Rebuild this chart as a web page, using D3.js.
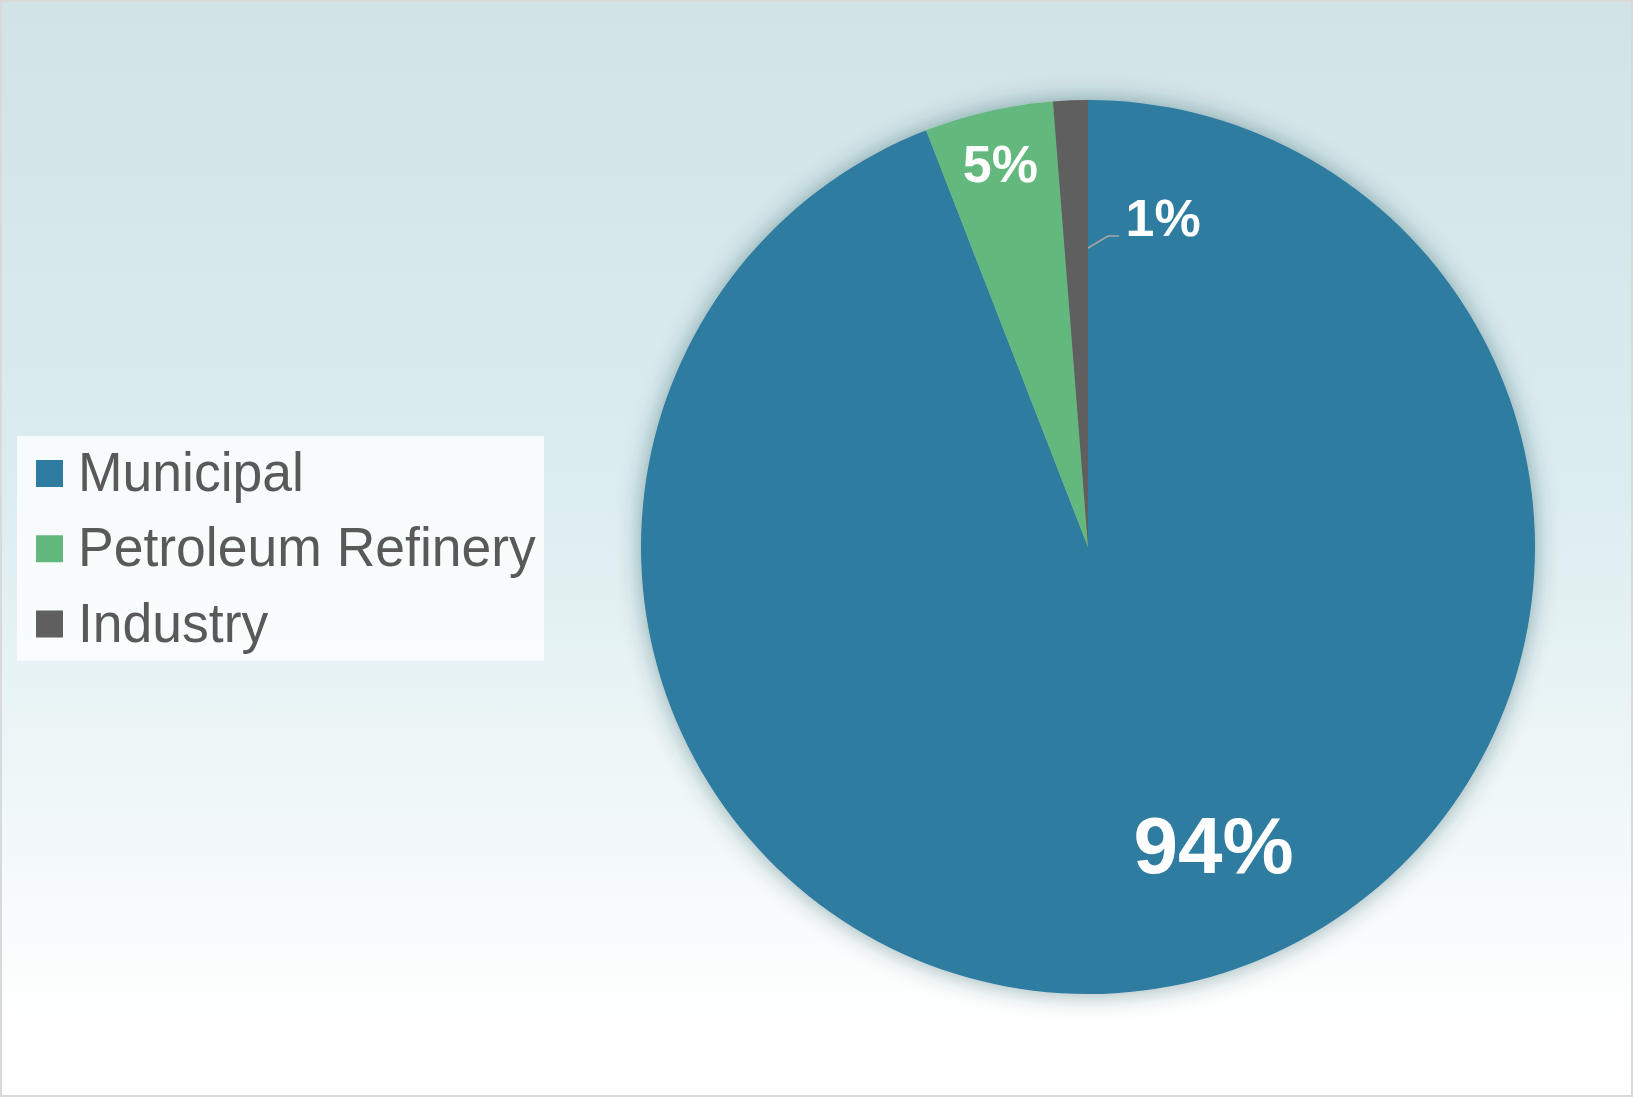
<!DOCTYPE html>
<html>
<head>
<meta charset="utf-8">
<script src="https://cdn.jsdelivr.net/npm/d3@7"></script>
<style>
  html, body { margin: 0; padding: 0; overflow: hidden; }
  svg { display: block; font-family: "Liberation Sans", Arial, sans-serif; }
</style>
</head>
<body>
<div id="chart"></div>
<script>
// chart data
const categories = ['Municipal', 'Petroleum Refinery', 'Industry'];
const values = [94.1, 4.65, 1.25];
const labels = ['94%', '5%', '1%'];
const colors = ['#2d7ba0', '#63b87e', '#5f5f5f'];

const width = 1633;
const height = 1097;
const cx = 1088;
const cy = 547;
const radius = 447;

const svg = d3.select('#chart').append('svg')
  .attr('width', width)
  .attr('height', height);

const defs = svg.append('defs');

const bg = defs.append('linearGradient')
  .attr('id', 'bg')
  .attr('x1', 0).attr('y1', 0)
  .attr('x2', 0).attr('y2', 1);
bg.append('stop').attr('offset', '0%').attr('stop-color', '#d1e3e6');
bg.append('stop').attr('offset', '45%').attr('stop-color', '#dcedf0');
bg.append('stop').attr('offset', '94%').attr('stop-color', '#ffffff');
bg.append('stop').attr('offset', '100%').attr('stop-color', '#ffffff');

const shadow = defs.append('filter')
  .attr('id', 'shadow')
  .attr('x', '-10%').attr('y', '-10%')
  .attr('width', '120%').attr('height', '120%');
shadow.append('feDropShadow')
  .attr('dx', 0).attr('dy', 0)
  .attr('stdDeviation', 12)
  .attr('flood-color', '#1a3a44')
  .attr('flood-opacity', 0.42);

// background + border
svg.append('rect')
  .attr('x', 1).attr('y', 1)
  .attr('width', width - 2).attr('height', height - 2)
  .attr('fill', 'url(#bg)')
  .attr('stroke', '#d9d9d9')
  .attr('stroke-width', 2);

const pie = d3.pie().sort(null).value((d) => d);
const arcs = pie(values);

const arc = d3.arc().innerRadius(0).outerRadius(radius);

const g = svg.append('g')
  .attr('transform', `translate(${cx},${cy})`);

const slices = g.append('g').attr('filter', 'url(#shadow)');
slices.selectAll('path')
  .data(arcs)
  .join('path')
  .attr('d', arc)
  .attr('fill', (d, i) => colors[i]);

// data labels: label radius fraction, angle shift in degrees, font size
const labelLayout = [
  { r: 0.724, shift: -12.2, size: 80 },
  { r: 0.88, shift: 0, size: 52 },
  { r: 0.755, shift: 15.1, size: 52 }
];

arcs.forEach((d, i) => {
  const lay = labelLayout[i];
  const a = (d.startAngle + d.endAngle) / 2 + lay.shift * Math.PI / 180;
  const lr = radius * lay.r;
  const x = lr * Math.sin(a);
  const y = -lr * Math.cos(a);
  g.append('text')
    .attr('x', x)
    .attr('y', y)
    .attr('text-anchor', 'middle')
    .attr('dominant-baseline', 'central')
    .attr('fill', '#ffffff')
    .attr('font-weight', 'bold')
    .attr('font-size', lay.size)
    .text(labels[i]);
});

// leader line for the small slice
const small = arcs[2];
const lineR = 299;
const p0 = [lineR * Math.sin(small.endAngle), -lineR * Math.cos(small.endAngle)];
g.append('path')
  .attr('d', d3.line()([p0, [p0[0] + 20, p0[1] - 12], [p0[0] + 31, p0[1] - 12]]))
  .attr('fill', 'none')
  .attr('stroke', '#a6a6a6')
  .attr('stroke-width', 1.5);

// legend
const legend = svg.append('g');
legend.append('rect')
  .attr('x', 17).attr('y', 436)
  .attr('width', 527).attr('height', 225)
  .attr('fill', '#ffffff')
  .attr('fill-opacity', 0.78);

const rowY = d3.scalePoint().domain(categories).range([473.5, 624]);

const rows = legend.selectAll('g.row')
  .data(categories)
  .join('g')
  .attr('class', 'row')
  .attr('transform', (d) => `translate(0,${rowY(d)})`);

rows.append('rect')
  .attr('x', 36).attr('y', -13.5)
  .attr('width', 27).attr('height', 27)
  .attr('fill', (d, i) => colors[i]);

rows.append('text')
  .attr('transform', 'translate(78,17.5) scale(1,1.03)')
  .attr('font-size', 53.5)
  .attr('fill', '#595959')
  .text((d) => d);
</script>
</body>
</html>
